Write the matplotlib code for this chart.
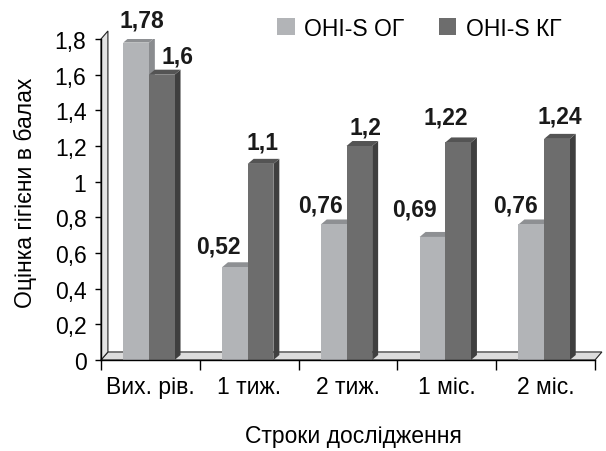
import matplotlib.pyplot as plt
import numpy as np
from matplotlib.patches import Polygon
from matplotlib.ticker import FixedLocator, FuncFormatter

plt.rcParams['font.family'] = ['Liberation Sans', 'DejaVu Sans']

# data
categories = ['Вих. рів.', '1 тиж.', '2 тиж.', '1 міс.', '2 міс.']
og_values = [1.78, 0.52, 0.76, 0.69, 0.76]
kg_values = [1.6, 1.1, 1.2, 1.22, 1.24]
series_names = ['OHI-S ОГ', 'OHI-S КГ']
y_ticks = [0, 0.2, 0.4, 0.6, 0.8, 1.0, 1.2, 1.4, 1.6, 1.8]

# styling
light = {'front': '#b2b4b7', 'top': '#8e9093', 'side': '#8a8c8f'}
dark = {'front': '#6d6d6d', 'top': '#545454', 'side': '#3f3f3f'}
bar_w = 0.26
bar_dx, bar_dy = 0.06, 0.028     # depth of the bars (data units)
wall_dx, wall_dy = 0.07, 0.045   # depth of wall/floor
# label offsets in pixels (dx, dy) from the top centre of each front face
og_lbl_off = [(6, 23), (-16, 21), (-13, 19), (-18, 28), (-16, 19)]
kg_lbl_off = [(16, 19), (2, 22), (6, 19), (-12, 25), (3, 23)]
fs = 16.5


def fmt(v):
    return f"{v:g}".replace('.', ',')


def box(ax, xc, h, col, z, label=None):
    x0 = xc - bar_w / 2
    x1 = xc + bar_w / 2
    side = Polygon([(x1, 0), (x1 + bar_dx, bar_dy), (x1 + bar_dx, h + bar_dy), (x1, h)],
                   closed=True, fc=col['side'], ec='none', zorder=z)
    top = Polygon([(x0, h), (x1, h), (x1 + bar_dx, h + bar_dy), (x0 + bar_dx, h + bar_dy)],
                  closed=True, fc=col['top'], ec='none', zorder=z)
    ax.add_patch(side)
    ax.add_patch(top)
    return ax.bar(xc, h, width=bar_w, color=col['front'], zorder=z + 0.1, label=label)


fig = plt.figure(figsize=(6.06, 4.52), dpi=100)
ax = fig.add_axes([101 / 606, 91 / 452, 494 / 606, 321 / 452])
ax.set_xlim(-0.5, len(categories) - 0.5)
ax.set_ylim(0, 1.8)

x = np.arange(len(categories))
x_lo, x_hi = -0.5, len(categories) - 0.5

# floor and side wall
floor = Polygon([(x_lo, 0), (x_hi, 0), (x_hi + wall_dx, wall_dy), (x_lo + wall_dx, wall_dy)],
                closed=True, fc='#dcdcdc', ec='#222222', lw=0.8, zorder=0.5, clip_on=False)
wall = Polygon([(x_lo, 0), (x_lo + wall_dx, wall_dy), (x_lo + wall_dx, 1.8 + wall_dy), (x_lo, 1.8)],
               closed=True, fc='#e4e4e4', ec='#222222', lw=0.8, zorder=0.5, clip_on=False)
ax.add_patch(floor)
ax.add_patch(wall)

handles = []
for i in range(len(categories)):
    b1 = box(ax, x[i] - 0.145, og_values[i], light, 2, series_names[0] if i == 0 else None)
    b2 = box(ax, x[i] + 0.115, kg_values[i], dark, 3, series_names[1] if i == 0 else None)
    if i == 0:
        handles = [b1, b2]
    ax.annotate(fmt(og_values[i]), (x[i] - 0.145, og_values[i]), xytext=og_lbl_off[i],
                textcoords='offset pixels', ha='center', va='center',
                fontsize=16.5, fontweight='bold', color='#1a1a1a', annotation_clip=False)
    ax.annotate(fmt(kg_values[i]), (x[i] + 0.115, kg_values[i]), xytext=kg_lbl_off[i],
                textcoords='offset pixels', ha='center', va='center',
                fontsize=16.5, fontweight='bold', color='#1a1a1a', annotation_clip=False)

# axes
for s in ['top', 'right']:
    ax.spines[s].set_visible(False)
for s in ['left', 'bottom']:
    ax.spines[s].set_linewidth(1.0)
    ax.spines[s].set_zorder(5)

ax.set_yticks(y_ticks)
ax.yaxis.set_major_formatter(FuncFormatter(lambda v, p: fmt(round(v, 1))))
ax.tick_params(axis='y', direction='out', length=4.5, width=1, pad=6.0, labelsize=fs)

ax.xaxis.set_major_locator(FixedLocator(np.arange(x_lo, x_hi + 0.01, 1.0)))
ax.xaxis.set_major_formatter(FuncFormatter(lambda v, p: ''))
ax.xaxis.set_minor_locator(FixedLocator(x))
ax.set_xticklabels(categories, minor=True)
ax.tick_params(axis='x', which='major', direction='out', length=7, width=1)
ax.tick_params(axis='x', which='minor', length=0, pad=11, labelsize=fs)

ax.text(0.512, -0.234, 'Строки дослідження', transform=ax.transAxes,
        ha='center', va='center', fontsize=fs)
ax.text(-0.154, 0.523, 'Оцінка гігієни в балах', transform=ax.transAxes,
        ha='center', va='center', rotation=90, fontsize=fs)

ax.legend(handles=handles, loc='upper left', bbox_to_anchor=(0.356, 1.07), ncol=2,
          frameon=False, fontsize=fs, handlelength=0.78, handleheight=0.8,
          handletextpad=0.4, columnspacing=1.5, borderpad=0, borderaxespad=0)

fig.savefig('out.png', dpi=100)
